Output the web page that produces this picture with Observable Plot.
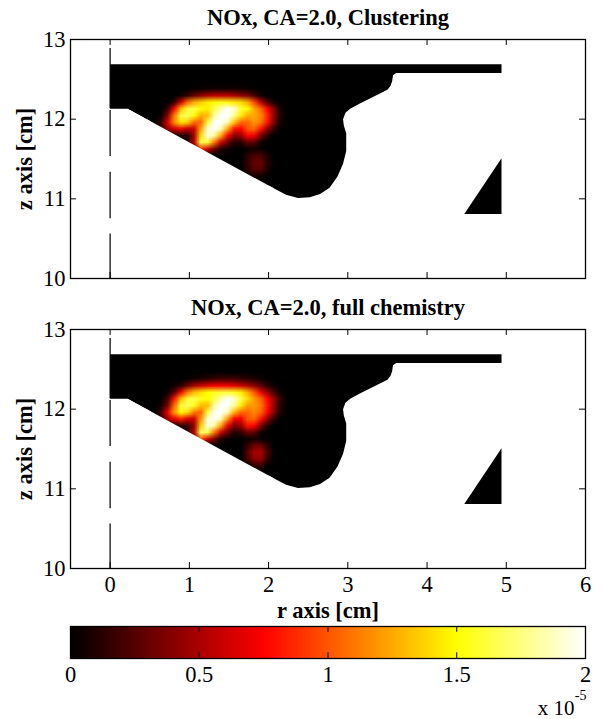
<!DOCTYPE html>
<html>
<head>
<meta charset="utf-8">
<style>
html,body{margin:0;padding:0;background:#fff}
svg{display:block}
</style>
<script src="https://cdn.jsdelivr.net/npm/d3@7"></script>
<script src="https://cdn.jsdelivr.net/npm/@observablehq/plot@0.6"></script>
</head>
<body>
<div id="chart"></div>
<script>
const FONT = "Liberation Serif";
const FS = 22.5;
const titles = ["NOx, CA=2.0, Clustering", "NOx, CA=2.0, full chemistry"];
const rTicks = [0, 1, 2, 3, 4, 5, 6];
const zTicks = [10, 11, 12, 13];
const cTicks = [0, 0.5, 1, 1.5, 2];
const cColors = ["#000000", "#ff0000", "#ffff00", "#ffffff"];
const cStops = [0, 0.75, 1.5, 2];

// combustion chamber outline [r, z], cm
const chamber = [[0,12.69],[4.94,12.69],[4.94,12.58],[3.61,12.58],[3.57,12.55],[3.56,12.48],[3.54,12.42],[3.5,12.37],
 [3.14,12.19],[3.03,12.13],[2.97,12.08],[2.94,12.0],[2.95,11.92],[2.98,11.82],[2.98,11.6],[2.94,11.44],[2.87,11.28],[2.77,11.14],
 [2.65,11.06],[2.52,11.02],[2.37,11.01],[2.22,11.05],[2.07,11.13],[0.22,12.13],[0,12.13]];
const bowlWedge = [[4.94,11.51],[4.94,10.81],[4.47,10.81]];
const belowRamp = [[0.22,12.13],[2.07,11.13],[0.22,11.13]];
// dashed centre line segments [z from, z to]
const axisDashes = [[12.887,12.13],[12.11,11.53],[11.335,10.75],[10.56,10]];

// NOx field, units of 1e-5, sampled on a 21 x 16 grid
const fieldBox = {r0:0.513, r1:2.279, z0:12.509, z1:11.167, cols:21, rows:16};
const clusteringField = [
 [0,0,0,0,0,0,0,0,0,0,0,0,0,0,0,0,0,0,0,0,0],
 [0,0,0,0,0,0,.02,.03,.04,.05,.05,.05,.05,.04,.03,.02,0,0,0,0,0],
 [0,0,0,0,.05,.15,.3,.4,.5,.55,.55,.55,.5,.42,.35,.2,.06,0,0,0,0],
 [0,0,0,.15,.6,1.05,1.25,1.35,1.45,1.5,1.55,1.5,1.45,1.4,1.25,.95,.55,.22,.05,0,0],
 [0,0,.15,.75,1.3,1.6,1.65,1.5,1.45,1.65,1.85,2,1.9,1.6,1.5,1.25,1.05,.75,.35,.05,0],
 [0,.02,.4,1.1,1.6,1.7,1.5,1.25,1.3,1.8,2,2,1.8,1.45,1.25,1.25,1.15,.85,.4,.05,0],
 [0,.15,.65,1.15,1.45,1.35,1.05,1.05,1.6,2,2,1.85,1.35,1.05,1.05,1.2,1.1,.8,.35,.03,0],
 [0,.15,.45,.6,.7,.55,.6,1.25,1.9,2,1.85,1.25,.8,.75,1,1.05,.8,.42,.12,0,0],
 [0,0,0,.05,.1,.1,.5,1.4,1.95,1.8,1.25,.75,.4,.45,.75,.7,.35,.1,0,0,0],
 [0,0,0,0,0,.1,.55,1.65,1.6,1.1,.6,.3,.1,.12,.3,.25,.05,0,0,0,0],
 [0,0,0,0,0,0,.25,.9,.6,.3,.1,.05,0,0,.02,.05,.02,0,0,0,0],
 [0,0,0,0,0,0,0,0,0,0,0,0,0,0,.12,.22,.22,.08,0,0,0],
 [0,0,0,0,0,0,0,0,0,0,0,0,0,0,.15,.3,.3,.1,0,0,0],
 [0,0,0,0,0,0,0,0,0,0,0,0,0,0,.12,.26,.26,.08,0,0,0],
 [0,0,0,0,0,0,0,0,0,0,0,0,0,0,0,.08,.06,0,0,0,0],
 [0,0,0,0,0,0,0,0,0,0,0,0,0,0,0,0,0,0,0,0,0]
];
const fullChemField = [
 [0,0,0,0,0,0,0,0,0,0,0,0,0,0,0,0,0,0,0,0,0],
 [0,0,0,0,0,.02,.05,.08,.12,.15,.18,.18,.18,.15,.12,.08,.04,0,0,0,0],
 [0,0,0,.04,.12,.3,.48,.58,.65,.7,.7,.7,.65,.58,.5,.4,.25,.12,.03,0,0],
 [0,0,.04,.25,.7,1.1,1.3,1.4,1.5,1.55,1.6,1.6,1.55,1.45,1.25,1,.7,.42,.18,.03,0],
 [0,0,.2,.8,1.3,1.6,1.65,1.55,1.5,1.65,1.85,2,1.9,1.65,1.4,1.2,1.05,.75,.42,.12,0],
 [0,.05,.35,1.05,1.6,1.7,1.55,1.3,1.3,1.8,2,2,1.8,1.45,1.2,1.2,1.1,.8,.42,.08,0],
 [0,.2,.7,1.2,1.5,1.4,1.1,1.05,1.6,2,2,1.85,1.3,1.05,1.05,1.15,1.05,.75,.36,.05,0],
 [0,.15,.5,.7,.85,.65,.6,1.2,1.9,2,1.85,1.2,.75,.7,1,1.05,.8,.42,.12,0,0],
 [0,0,0,.05,.15,.15,.45,1.35,1.95,1.8,1.25,.7,.35,.45,.8,.75,.36,.1,0,0,0],
 [0,0,0,0,0,.1,.55,1.7,1.65,1.1,.6,.3,.1,.14,.32,.28,.05,0,0,0,0],
 [0,0,0,0,0,0,.25,1,.65,.35,.1,.03,0,0,.03,.05,.02,0,0,0,0],
 [0,0,0,0,0,0,0,0,0,0,0,0,0,0,.15,.32,.32,.12,0,0,0],
 [0,0,0,0,0,0,0,0,0,0,0,0,0,0,.25,.5,.5,.2,0,0,0],
 [0,0,0,0,0,0,0,0,0,0,0,0,0,0,.2,.42,.42,.15,0,0,0],
 [0,0,0,0,0,0,0,0,0,0,0,0,0,0,0,.15,.15,0,0,0,0],
 [0,0,0,0,0,0,0,0,0,0,0,0,0,0,0,0,0,0,0,0,0]
];

const colorOpt = {type:"linear", domain:cStops, range:cColors, clamp:true};
const px = d => d[0], pz = d => d[1];

function panel(title, field, withX, height, marginBottom) {
  const marks = [
    Plot.line(chamber, {x:px, y:pz, fill:"#000", stroke:null}),
    Plot.line(bowlWedge, {x:px, y:pz, fill:"#000", stroke:null}),
    Plot.raster(field.flat(), {width:fieldBox.cols, height:fieldBox.rows, x1:fieldBox.r0, x2:fieldBox.r1, y1:fieldBox.z0, y2:fieldBox.z1, fill:d=>d}),
    Plot.line(belowRamp, {x:px, y:pz, fill:"#fff", stroke:null}),
    Plot.ruleX(axisDashes, {x:0, y1:d=>d[0], y2:d=>d[1], stroke:"#000", strokeWidth:1.2}),
    Plot.axisY({anchor:"left", ticks:zTicks, tickSize:0, tickPadding:5, label:null, fontSize:FS, tickFormat:d=>String(d)}),
    Plot.axisX({anchor:"bottom", ticks:rTicks, tickSize:0, tickPadding:8, label:null, fontSize:FS, tickFormat: withX ? (d=>String(d)) : (()=>"")}),
    Plot.ruleX(rTicks, {x:d=>d, y1:10, y2:10.075, stroke:"#000"}),
    Plot.ruleX(rTicks, {x:d=>d, y1:13, y2:12.925, stroke:"#000"}),
    Plot.ruleY(zTicks, {y:d=>d, x1:-0.5, x2:-0.425, stroke:"#000"}),
    Plot.ruleY(zTicks, {y:d=>d, x1:6, x2:5.925, stroke:"#000"}),
    Plot.frame({stroke:"#000", strokeWidth:1.3}),
    Plot.text([title], {frameAnchor:"top", dy:-22, lineAnchor:"middle", fontSize:FS, fontWeight:"bold", fill:"#000"}),
    Plot.text(["z axis [cm]"], {frameAnchor:"left", dx:-46, lineAnchor:"middle", textAnchor:"middle", rotate:-90, fontSize:FS, fontWeight:"bold", fill:"#000"})
  ];
  if (withX) marks.push(Plot.text(["r axis [cm]"], {frameAnchor:"bottom", dy:42, lineAnchor:"middle", fontSize:FS, fontWeight:"bold", fill:"#000"}));
  return Plot.plot({
    width:602, height, marginLeft:70, marginRight:17, marginTop:39, marginBottom,
    style:{fontFamily:FONT, background:"#fff", color:"#000", overflow:"visible"},
    x:{domain:[-0.5,6], axis:null},
    y:{domain:[10,13], axis:null},
    color:colorOpt,
    marks
  });
}

function colorbar() {
  return Plot.plot({
    width:602, height:99, marginLeft:70, marginRight:17, marginTop:6, marginBottom:61,
    style:{fontFamily:FONT, background:"#fff", color:"#000", overflow:"visible"},
    x:{domain:[0,2], axis:null},
    y:{domain:[0,1], axis:null},
    color:colorOpt,
    marks:[
      Plot.raster({fill:(x,y)=>x, width:64, height:1, x1:0, x2:2, y1:0, y2:1}),
      Plot.axisX({anchor:"bottom", ticks:cTicks, tickSize:0, tickPadding:8, label:null, fontSize:FS, tickFormat:d=>String(d)}),
      Plot.ruleX([0.5,1,1.5], {x:d=>d, y1:0, y2:0.18, stroke:"#000"}),
      Plot.ruleX([0.5,1,1.5], {x:d=>d, y1:1, y2:0.82, stroke:"#000"}),
      Plot.frame({stroke:"#000", strokeWidth:1.3}),
      Plot.text(["x 10"], {frameAnchor:"bottom-right", dx:-11, dy:50, lineAnchor:"middle", textAnchor:"end", fontSize:21, fill:"#000"}),
      Plot.text(["-5"], {frameAnchor:"bottom-right", dx:1, dy:37, lineAnchor:"middle", textAnchor:"end", fontSize:14, fill:"#000"})
    ]
  });
}

const root = document.getElementById("chart");
root.append(panel(titles[0], clusteringField, false, 290, 12));
root.append(panel(titles[1], fullChemField, true, 330, 52));
root.append(colorbar());
</script>
</body>
</html>
